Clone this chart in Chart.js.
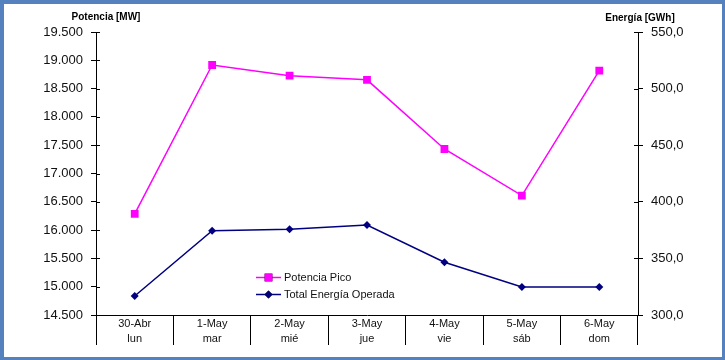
<!DOCTYPE html>
<html>
<head>
<meta charset="utf-8">
<script src="https://cdn.jsdelivr.net/npm/chart.js@4"></script>
<style>
  html, body { margin: 0; padding: 0; }
  body { width: 725px; height: 360px; background: #5582bf; position: relative; overflow: hidden; }
  #box { position: absolute; left: 4px; top: 4px; width: 718px; height: 353px; background: #fff; }
</style>
</head>
<body>
<div id="box"><canvas id="chart" width="718" height="353"></canvas></div>
<script>
const fechas = ["30-Abr", "1-May", "2-May", "3-May", "4-May", "5-May", "6-May"];
const dias = ["lun", "mar", "mié", "jue", "vie", "sáb", "dom"];
const potenciaPico = [16285, 18917, 18728, 18655, 17433, 16610, 18817];
const energiaOperada = [316.8, 374.5, 375.7, 379.5, 346.6, 324.7, 324.7];
const ejePotencia = { min: 14500, max: 19500, step: 500 };
const ejeEnergia = { min: 300, max: 550, step: 50 };

const font = "'Liberation Sans', Arial, sans-serif";

const fmtMW = v => Math.floor(v / 1000) + "." + String(v % 1000).padStart(3, "0");
const fmtGWh = v => v.toFixed(1).replace(".", ",");

// titles, inner tick marks and the legend inside the plot
const extras = {
  id: "extras",
  afterDraw(chart) {
    const ctx = chart.ctx;
    const area = chart.chartArea;
    ctx.save();
    ctx.strokeStyle = "#000";
    ctx.lineWidth = 1;
    ["y", "y1"].forEach(id => {
      const s = chart.scales[id];
      s.ticks.forEach(t => {
        const py = Math.round(s.getPixelForValue(t.value)) + 0.5;
        ctx.beginPath();
        if (id === "y") {
          ctx.moveTo(area.left, py);
          ctx.lineTo(area.left + 4, py);
        } else {
          ctx.moveTo(area.right - 4, py);
          ctx.lineTo(area.right, py);
        }
        ctx.stroke();
      });
    });

    ctx.fillStyle = "#000";
    ctx.font = "bold 10px " + font;
    ctx.textAlign = "center";
    ctx.textBaseline = "middle";
    ctx.fillText("Potencia [MW]", area.left + 10, 13);
    ctx.fillText("Energía [GWh]", area.right + 2, 14);

    // legend
    const lx = area.left + 160;
    const rows = [area.top + 245.5, area.top + 262.5];
    chart.data.datasets.forEach((ds, i) => {
      const y = rows[i];
      ctx.strokeStyle = ds.borderColor;
      ctx.lineWidth = 1.5;
      ctx.beginPath();
      ctx.moveTo(lx, y);
      ctx.lineTo(lx + 25, y);
      ctx.stroke();
      Chart.helpers.drawPoint(ctx, {
        pointStyle: ds.pointStyle,
        radius: ds.pointRadius,
        borderWidth: 0
      }, lx + 12.5, y);
      ctx.fillStyle = ds.pointBackgroundColor;
      ctx.fill();
      ctx.fillStyle = "#111";
      ctx.font = "11px " + font;
      ctx.textAlign = "left";
      ctx.fillText(ds.label, lx + 28, y);
    });
    ctx.restore();
  }
};

new Chart(document.getElementById("chart"), {
  type: "line",
  data: {
    labels: fechas.map((f, i) => [f, dias[i]]),
    datasets: [
      {
        label: "Potencia Pico",
        data: potenciaPico,
        yAxisID: "y",
        borderColor: "#ff00ff",
        backgroundColor: "#ff00ff",
        pointBackgroundColor: "#ff00ff",
        pointBorderColor: "#ff00ff",
        borderWidth: 1.5,
        pointStyle: "rect",
        pointRadius: 5.5,
        pointBorderWidth: 0,
        tension: 0,
      },
      {
        label: "Total Energía Operada",
        data: energiaOperada,
        yAxisID: "y1",
        borderColor: "#000080",
        backgroundColor: "#000080",
        pointBackgroundColor: "#000080",
        pointBorderColor: "#000080",
        borderWidth: 1.5,
        pointStyle: "rectRot",
        pointRadius: 4,
        pointBorderWidth: 0,
        tension: 0,
      },
    ],
  },
  options: {
    responsive: false,
    animation: false,
    events: [],
    layout: { padding: { top: 28, left: 0, right: 0, bottom: 0 } },
    plugins: {
      legend: { display: false },
      tooltip: { enabled: false },
    },
    scales: {
      x: {
        offset: true,
        afterFit: s => { s.height = 42; },
        grid: {
          offset: true,
          drawOnChartArea: false,
          tickLength: 30,
          color: "#000",
        },
        border: { display: true, color: "#000" },
        ticks: {
          padding: -28,
          color: "#111",
          font: { family: font, size: 11, lineHeight: 1.35 },
          maxRotation: 0,
        },
      },
      y: {
        position: "left",
        min: ejePotencia.min,
        max: ejePotencia.max,
        afterFit: s => { s.width = 92; },
        grid: { drawOnChartArea: false, tickLength: 5, color: "#000" },
        border: { display: true, color: "#000" },
        ticks: {
          stepSize: ejePotencia.step,
          padding: 8,
          color: "#111",
          font: { family: font, size: 13 },
          callback: v => fmtMW(v),
        },
      },
      y1: {
        position: "right",
        min: ejeEnergia.min,
        max: ejeEnergia.max,
        afterFit: s => { s.width = 84; },
        grid: { drawOnChartArea: false, tickLength: 5, color: "#000" },
        border: { display: true, color: "#000" },
        ticks: {
          stepSize: ejeEnergia.step,
          padding: 8,
          color: "#111",
          font: { family: font, size: 13 },
          callback: v => fmtGWh(v),
        },
      },
    },
  },
  plugins: [extras],
});
</script>
</body>
</html>
